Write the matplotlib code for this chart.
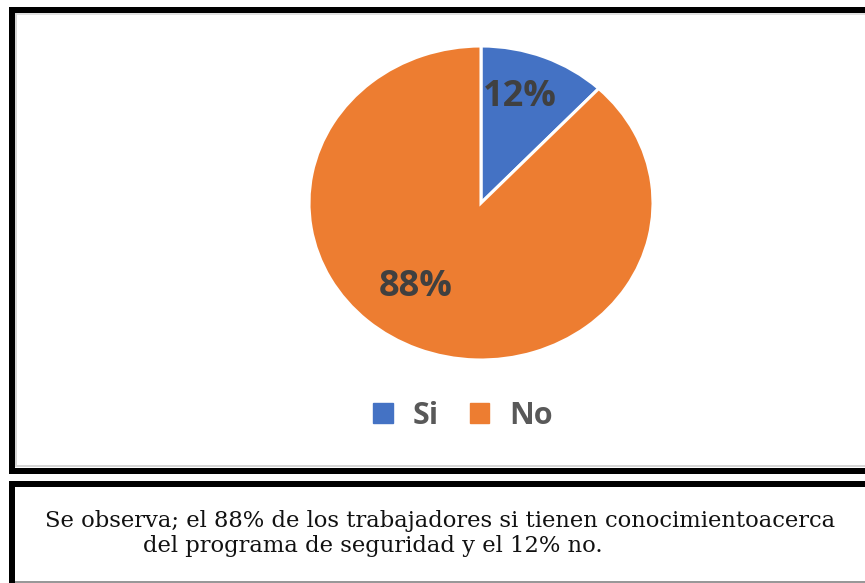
import matplotlib
matplotlib.use("Agg")
import matplotlib.pyplot as plt
from matplotlib.lines import Line2D
from matplotlib.patches import Patch

categories = ["Si", "No"]
values = [12, 88]
colors = ["#4472C4", "#ED7D31"]
caption_lines = [
    "Se observa; el 88% de los trabajadores si tienen conocimientoacerca",
    "del programa de seguridad y el 12% no.",
]

W, H = 865, 583
fig = plt.figure(figsize=(W / 100, H / 100), dpi=100)
fig.patch.set_facecolor("white")

def fx(x):
    return x / W

def fy(y):
    return 1 - y / H

def hline(x0, x1, y, lw_px, color):
    fig.add_artist(Line2D([fx(x0), fx(x1)], [fy(y), fy(y)], transform=fig.transFigure,
                          color=color, linewidth=lw_px * 0.72, solid_capstyle="butt"))

def vline(x, y0, y1, lw_px, color):
    fig.add_artist(Line2D([fx(x), fx(x)], [fy(y0), fy(y1)], transform=fig.transFigure,
                          color=color, linewidth=lw_px * 0.72, solid_capstyle="butt"))

# top box borders
hline(9, 870, 10, 6, "black")
hline(9, 870, 470.5, 6, "black")
vline(12, 7, 473.5, 6, "black")
hline(15, 870, 14, 1.5, "#d6d6d6")
hline(15, 870, 466, 2, "#d6d6d6")
vline(16, 13, 467, 2, "#d6d6d6")

# bottom box borders
hline(9, 870, 484, 6, "black")
vline(12, 481, 590, 6, "black")
hline(15, 870, 582, 1.5, "#777777")

# pie
ax = fig.add_axes([fx(309), fy(360), fx(653) - fx(309), fy(46) - fy(360)])
wedges, texts, autotexts = ax.pie(
    values, colors=colors, startangle=90, counterclock=False,
    autopct="%1.0f%%", pctdistance=0.7,
    wedgeprops=dict(edgecolor="white", linewidth=2.2),
    textprops=dict(color="#404040", fontsize=26, fontweight="bold", family="Open Sans"),
)
ax.set_aspect("auto")
ax.set_xlim(-1, 1)
ax.set_ylim(-1, 1)
autotexts[0].set_position((0.227, 0.675))
autotexts[1].set_position((-0.378, -0.535))

handles = [Patch(facecolor=c, edgecolor=c) for c in colors]
fig.legend(handles, categories, loc="center", bbox_to_anchor=(fx(463), fy(416)),
           ncol=2, frameon=False, handlelength=0.65, handleheight=0.65,
           handletextpad=0.65, columnspacing=1.0,
           prop=dict(family="Open Sans", weight="bold", size=22),
           labelcolor="#595959")

fig.text(fx(45), fy(527), caption_lines[0], family="DejaVu Serif", fontsize=16.3,
         color="#111111", ha="left", va="baseline")
fig.text(fx(143), fy(552), caption_lines[1], family="DejaVu Serif", fontsize=16.3,
         color="#111111", ha="left", va="baseline")

fig.savefig("out.png", dpi=100)
